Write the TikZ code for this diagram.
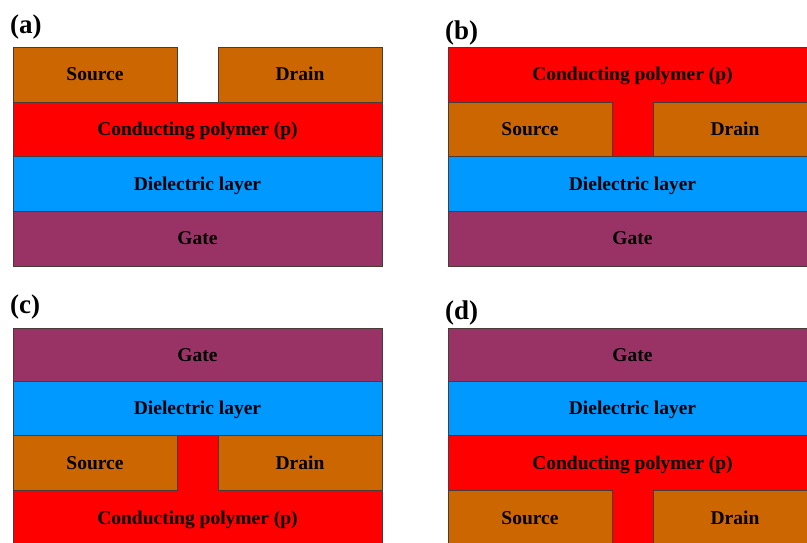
\documentclass[tikz,border=0pt]{standalone}
\usepackage{fontspec}
\setmainfont{Liberation Serif}
\definecolor{metal}{HTML}{CC6600}
\definecolor{polymer}{HTML}{FF0000}
\definecolor{dielec}{HTML}{0099FF}
\definecolor{gatec}{HTML}{993366}
\definecolor{edgec}{HTML}{4A3A3A}

\tikzset{
  layer/.style={draw=edgec, line width=0.8pt, rectangle, inner sep=0pt,
    text height=12.9pt, text depth=0pt,
    font=\fontsize{19.5}{23}\selectfont\bfseries},
  layertext/.style={inner sep=0pt, text height=12.9pt, text depth=0pt,
    font=\fontsize{19.5}{23}\selectfont\bfseries},
  panellabel/.style={anchor=base west, inner sep=0pt,
    font=\fontsize{27}{30}\selectfont\bfseries},
  tshape/.style={draw=edgec, line width=0.8pt, fill=polymer},
}

% \slab{name}{fill}{x1}{y1}{x2}{y2}{text}
\newcommand\slab[7]{%
  \node[layer, fill=#2, minimum width={(#5-#3)*1pt}, minimum height={(#6-#4)*1pt}]
    (#1) at ({(#3+#5)/2},{(#4+#6)/2}) {#7};}

\begin{document}
\begin{tikzpicture}[x=1pt, y=-1pt]
\useasboundingbox (0,0) rectangle (807,542);
\clip (0,0) rectangle (807,542);

% ---------- (a) bottom gate, top contacts ----------
\node[panellabel] (la) at (10,33) {(a)};
\slab{aS}{metal}{13}{47}{177}{102}{Source}
\slab{aD}{metal}{218}{47}{382}{102}{Drain}
\slab{aP}{polymer}{13}{102}{382}{156.5}{Conducting polymer (p)}
\slab{aI}{dielec}{13}{156.5}{382}{211}{Dielectric layer}
\slab{aG}{gatec}{13}{211}{382}{266}{Gate}

% ---------- (b) bottom gate, bottom contacts ----------
\node[panellabel] (lb) at (445,39) {(b)};
\draw[tshape] (448,47) -- (817,47) -- (817,102) -- (653,102) -- (653,156.5)
  -- (612,156.5) -- (612,102) -- (448,102) -- cycle;
\node[layertext] (bP) at (632.5,74.5) {Conducting polymer (p)};
\slab{bS}{metal}{448}{102}{612}{156.5}{Source}
\slab{bD}{metal}{653}{102}{817}{156.5}{Drain}
\slab{bI}{dielec}{448}{156.5}{817}{211}{Dielectric layer}
\slab{bG}{gatec}{448}{211}{817}{266}{Gate}

% ---------- (c) top gate, top contacts on polymer ----------
\node[panellabel] (lc) at (10,313) {(c)};
\slab{cG}{gatec}{13}{328.5}{382}{381}{Gate}
\slab{cI}{dielec}{13}{381}{382}{435.5}{Dielectric layer}
\draw[tshape] (13,490) -- (177,490) -- (177,435.5) -- (218,435.5) -- (218,490)
  -- (382,490) -- (382,546) -- (13,546) -- cycle;
\slab{cS}{metal}{13}{435.5}{177}{490}{Source}
\slab{cD}{metal}{218}{435.5}{382}{490}{Drain}
\node[layertext] (cP) at (197.5,518) {Conducting polymer (p)};

% ---------- (d) top gate, bottom contacts ----------
\node[panellabel] (ld) at (445,319) {(d)};
\slab{dG}{gatec}{448}{328.5}{817}{381}{Gate}
\slab{dI}{dielec}{448}{381}{817}{435.5}{Dielectric layer}
\draw[tshape] (448,435.5) -- (817,435.5) -- (817,490) -- (653,490) -- (653,546)
  -- (612,546) -- (612,490) -- (448,490) -- cycle;
\node[layertext] (dP) at (632.5,463) {Conducting polymer (p)};
\slab{dS}{metal}{448}{490}{612}{546}{Source}
\slab{dD}{metal}{653}{490}{817}{546}{Drain}
\end{tikzpicture}
\end{document}
